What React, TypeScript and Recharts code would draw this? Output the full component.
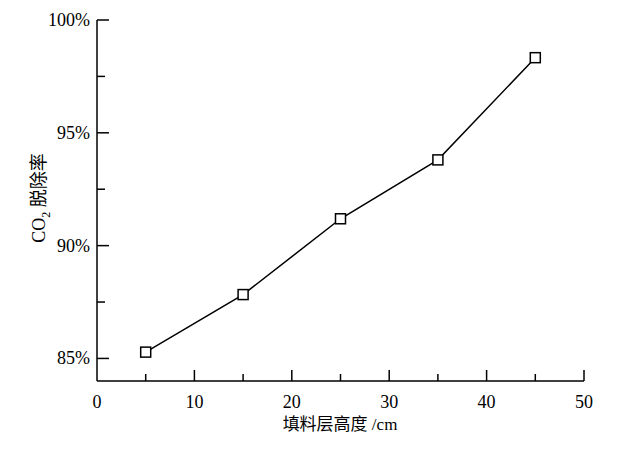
import { Line, LineChart, XAxis, YAxis } from 'recharts';

const heights = [5, 15, 25, 35, 45];
const removalRates = [85.28, 87.83, 91.19, 93.8, 98.33];
const xTicks = [0, 5, 10, 15, 20, 25, 30, 35, 40, 45, 50];
const yTicks = [85, 87.5, 90, 92.5, 95, 97.5, 100];

const rows = heights.map((h, i) => ({ h, rate: removalRates[i] }));

const FONT = "'Liberation Serif', 'Times New Roman', 'Noto Sans CJK SC', serif";

// ticks point into the plot; majors carry a label, minors do not
function XTick(props: any) {
  const { x, y, payload } = props;
  const major = payload.value % 10 === 0;
  return (
    <g>
      {payload.value !== 0 && (
        <line x1={x} x2={x} y1={y} y2={y - (major ? 11 : 7)} stroke="#000" strokeWidth={1.5} />
      )}
      {major && (
        <text x={x} y={y + 27} textAnchor="middle" fontSize={18} fontFamily={FONT} fill="#000">
          {payload.value}
        </text>
      )}
    </g>
  );
}

function YTick(props: any) {
  const { x, y, payload } = props;
  const major = payload.value % 5 === 0;
  return (
    <g>
      <line x1={x} x2={x + (major ? 12 : 8)} y1={y} y2={y} stroke="#000" strokeWidth={1.5} />
      {major && (
        <text x={x - 7} y={y + 6} textAnchor="end" fontSize={18} fontFamily={FONT} fill="#000">
          {`${payload.value}%`}
        </text>
      )}
    </g>
  );
}

function SquareDot(props: any) {
  const { cx, cy } = props;
  if (cx == null || cy == null) return null;
  return <rect x={cx - 5} y={cy - 5} width={10} height={10} fill="#fff" stroke="#000" strokeWidth={1.5} />;
}

function YTitle() {
  return (
    <text
      transform="translate(45, 198) rotate(-90)"
      textAnchor="middle"
      fontSize={18}
      fontFamily={FONT}
      fill="#000"
    >
      CO
      <tspan fontSize={12} dy={5}>2</tspan>
      <tspan dy={-5}> 脱除率</tspan>
    </text>
  );
}

export default function App() {
  return (
    <div style={{ position: 'fixed', left: 0, top: 0, background: '#fff' }}>
      <LineChart
        width={629}
        height={453}
        data={rows}
        margin={{ top: 20, right: 45, bottom: 0, left: 0 }}
      >
        <XAxis
          dataKey="h"
          type="number"
          domain={[0, 50]}
          ticks={xTicks}
          interval={0}
          height={72}
          tickSize={0}
          tickMargin={0}
          tickLine={false}
          tick={<XTick />}
          axisLine={{ stroke: '#000', strokeWidth: 1.5 }}
          label={{
            content: () => (
              <text x={340} y={430} textAnchor="middle" fontSize={17} fontFamily={FONT} fill="#000">
                填料层高度 /cm
              </text>
            ),
          }}
        />
        <YAxis
          type="number"
          domain={[84, 100]}
          ticks={yTicks}
          interval={0}
          width={97}
          tickSize={0}
          tickMargin={0}
          tickLine={false}
          tick={<YTick />}
          axisLine={{ stroke: '#000', strokeWidth: 1.5 }}
          label={{ content: () => <YTitle /> }}
        />
        <Line
          dataKey="rate"
          stroke="#000"
          strokeWidth={1.5}
          dot={<SquareDot />}
          activeDot={false}
          isAnimationActive={false}
        />
      </LineChart>
    </div>
  );
}
